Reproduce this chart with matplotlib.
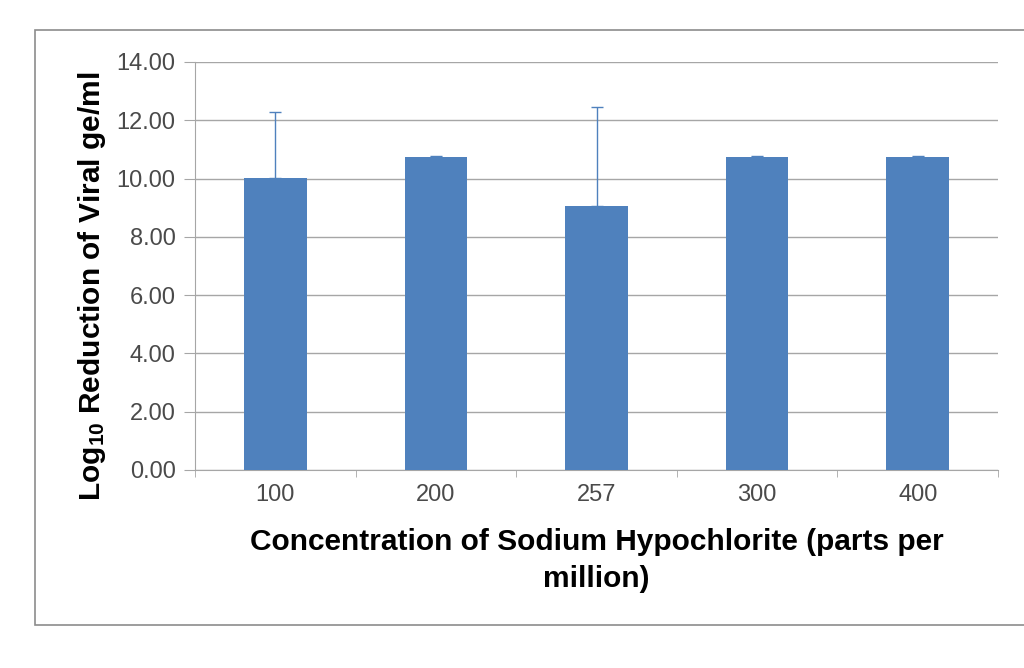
import numpy as np
import matplotlib.pyplot as plt
from matplotlib.patches import Rectangle

# datos
concentraciones = ['100', '200', '257', '300', '400']
reduccion_log = [10.02, 10.74, 9.07, 10.74, 10.74]
error_sup = [2.28, 0.03, 3.38, 0.03, 0.03]

plt.rcParams['font.family'] = ['Liberation Sans', 'DejaVu Sans']
plt.rcParams['mathtext.fontset'] = 'custom'
plt.rcParams['mathtext.bf'] = 'Liberation Sans:bold'
plt.rcParams['mathtext.rm'] = 'Liberation Sans'

fig = plt.figure(figsize=(10.24, 6.68), dpi=100)
fig.patches.append(Rectangle((35/1024, 1-625/668), 990/1024, 595/668,
                             transform=fig.transFigure, fill=False,
                             edgecolor='#8c8c8c', linewidth=1.2))

ax = fig.add_axes([195/1024, 1-470/668, 803/1024, 408/668])
x = np.arange(len(concentraciones))
ax.bar(x, reduccion_log, width=0.39, color='#4f81bd', zorder=3)
ax.errorbar(x, reduccion_log, yerr=[np.zeros(len(x)), error_sup], fmt='none',
            ecolor='#4f81bd', elinewidth=1, capsize=4, capthick=1, zorder=4)

ax.set_xlim(-0.5, len(x) - 0.5)
ax.set_ylim(0, 14)
ax.set_yticks(np.arange(0, 15, 2))
ax.set_yticklabels([f'{v:.2f}' for v in np.arange(0, 15, 2)])
ax.yaxis.grid(True, color='#a6a6a6', linewidth=1, zorder=0)
ax.set_xticks(x)
ax.set_xticklabels(concentraciones)
ax.set_xticks(np.arange(-0.5, len(x), 1), minor=True)
ax.tick_params(axis='x', which='major', length=0, labelsize=17, colors='#4a4a4a', pad=10)
ax.tick_params(axis='x', which='minor', length=5, color='#a6a6a6')
ax.tick_params(axis='y', length=8, color='#a6a6a6', labelsize=17, labelcolor='#4a4a4a', pad=6)

for lado in ['top', 'right']:
    ax.spines[lado].set_visible(False)
ax.spines['left'].set_color('#a6a6a6')
ax.spines['bottom'].set_color('#a6a6a6')

ax.set_ylabel(r'$\mathbf{Log_{10}}$ Reduction of Viral ge/ml', fontsize=21.5,
              fontweight='bold')
ax.yaxis.set_label_coords(-0.108, 0.45)
ax.set_xlabel('Concentration of Sodium Hypochlorite (parts per\nmillion)', fontsize=21.5,
              fontweight='bold', labelpad=16, linespacing=1.4)

fig.savefig('out.png', dpi=100)
